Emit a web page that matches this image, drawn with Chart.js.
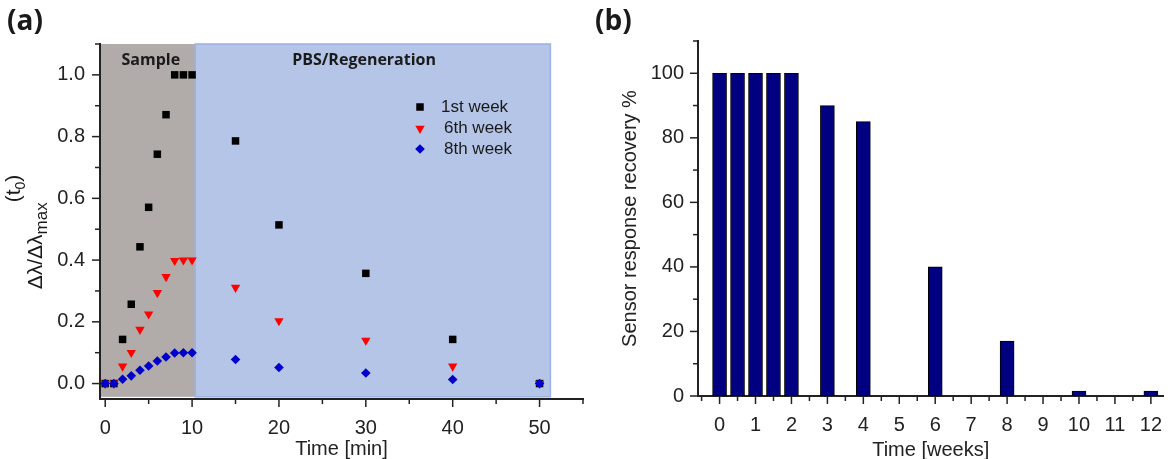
<!DOCTYPE html>
<html>
<head>
<meta charset="utf-8">
<script src="https://cdn.jsdelivr.net/npm/chart.js@4.4.1/dist/chart.umd.min.js"></script>
<style>
html, body { margin: 0; padding: 0; background: #fff; }
#wrap { position: relative; width: 1171px; height: 459px; overflow: hidden; }
#chartA { position: absolute; left: 0; top: 0; }
#chartB { position: absolute; left: 590px; top: 0; }
</style>
</head>
<body>
<div id="wrap">
  <canvas id="chartA" width="590" height="459"></canvas>
  <canvas id="chartB" width="581" height="459"></canvas>
</div>
<script>
// panel (a): normalised shift vs time
const minutes = [0, 1, 2, 3, 4, 5, 6, 7, 8, 9, 10, 15, 20, 30, 40, 50];
const week1 = [0, 0, 0.143, 0.257, 0.443, 0.571, 0.743, 0.871, 1.0, 1.0, 1.0, 0.786, 0.514, 0.357, 0.143, 0];
const week6 = [0, 0, 0.056, 0.100, 0.175, 0.225, 0.294, 0.346, 0.398, 0.400, 0.400, 0.311, 0.203, 0.140, 0.056, 0];
const week8 = [0, 0, 0.014, 0.025, 0.043, 0.057, 0.073, 0.086, 0.099, 0.100, 0.100, 0.078, 0.052, 0.034, 0.013, 0];
const minTicks = [0, 10, 20, 30, 40, 50];
const minMinor = [5, 15, 25, 35, 45, 55];
const shiftTicks = [0, 0.2, 0.4, 0.6, 0.8, 1.0];
const shiftMinor = [0.1, 0.3, 0.5, 0.7, 0.9, 1.1];

// panel (b): recovery per week
const weeks = [0, 0.5, 1, 1.5, 2, 3, 4, 6, 8, 10, 12];
const recovery = [100, 100, 100, 100, 100, 90, 85, 40, 17, 1.5, 1.5];
const weekTicks = [0, 1, 2, 3, 4, 5, 6, 7, 8, 9, 10, 11, 12];
const weekMinor = [-0.5, 0.5, 1.5, 2.5, 3.5, 4.5, 5.5, 6.5, 7.5, 8.5, 9.5, 10.5, 11.5];
const pctTicks = [0, 20, 40, 60, 80, 100];
const pctMinor = [10, 30, 50, 70, 90, 110];

const axisColor = '#222';
const tickFont = { family: '"Liberation Sans", Arial, sans-serif', size: 20 };

function line(ctx, x1, y1, x2, y2) {
  ctx.beginPath(); ctx.moveTo(x1, y1); ctx.lineTo(x2, y2); ctx.stroke();
}

// Origin style outward ticks, major and minor
function drawTicks(chart, xMaj, xMin, yMaj, yMin) {
  const ctx = chart.ctx, a = chart.chartArea;
  const xs = chart.scales.x, ys = chart.scales.y;
  ctx.save();
  ctx.strokeStyle = axisColor;
  ctx.lineWidth = 1.5;
  xMaj.forEach(v => { const p = xs.getPixelForValue(v); line(ctx, p, a.bottom, p, a.bottom + 8); });
  xMin.forEach(v => { const p = xs.getPixelForValue(v); line(ctx, p, a.bottom, p, a.bottom + 5); });
  yMaj.forEach(v => { const p = ys.getPixelForValue(v); line(ctx, a.left, p, a.left - 8, p); });
  yMin.forEach(v => { const p = ys.getPixelForValue(v); line(ctx, a.left, p, a.left - 5, p); });
  ctx.restore();
}

function marker(ctx, style, radius, rotation, color, x, y) {
  ctx.fillStyle = color;
  Chart.helpers.drawPoint(ctx, { pointStyle: style, radius: radius, rotation: rotation, borderWidth: 0 }, x, y);
}

const panelA = {
  id: 'panelA',
  beforeDatasetsDraw(chart) {
    const ctx = chart.ctx, xs = chart.scales.x, ys = chart.scales.y;
    const top = ys.getPixelForValue(1.1), bot = ys.getPixelForValue(-0.043);
    const x0 = chart.chartArea.left + 1, x1 = xs.getPixelForValue(10.36), x2 = xs.getPixelForValue(51.25);
    ctx.save();
    ctx.fillStyle = '#b1abaa';
    ctx.fillRect(x0, top, x1 - x0, bot - top);
    ctx.fillStyle = '#b4c5e7';
    ctx.fillRect(x1, top, x2 - x1, bot - top);
    ctx.strokeStyle = '#9ab3e0';
    ctx.lineWidth = 1.5;
    ctx.strokeRect(x1, top, x2 - x1, bot - top);
    ctx.restore();
  },
  afterDraw(chart) {
    const ctx = chart.ctx, xs = chart.scales.x, ys = chart.scales.y, a = chart.chartArea;
    drawTicks(chart, minTicks, minMinor, shiftTicks, shiftMinor);
    ctx.save();
    ctx.fillStyle = '#1a1a1a';
    ctx.textBaseline = 'alphabetic';
    ctx.textAlign = 'center';
    ctx.font = 'bold 16px "Open Sans"';
    ctx.fillText('Sample', xs.getPixelForValue(5.25), ys.getPixelForValue(1.032));
    ctx.fillText('PBS/Regeneration', xs.getPixelForValue(29.8), ys.getPixelForValue(1.032));
    ctx.textAlign = 'left';
    ctx.font = 'bold 28px "Open Sans"';
    ctx.fillText('(a)', 7, 30);

    // legend
    const lx = a.left + 320, ly = a.top + 63;
    marker(ctx, 'rect', 5.3, 0, '#000', lx, ly);
    marker(ctx, 'triangle', 5.4, 180, '#ff0000', lx, ly + 21.5);
    marker(ctx, 'rectRot', 4.8, 0, '#0000cc', lx, ly + 42);
    ctx.fillStyle = '#1a1a1a';
    ctx.font = '17px "Liberation Sans"';
    ctx.textBaseline = 'middle';
    ctx.fillText(chart.data.datasets[0].label, lx + 21, ly);
    ctx.fillText(chart.data.datasets[1].label, lx + 24, ly + 21.5);
    ctx.fillText(chart.data.datasets[2].label, lx + 24, ly + 42);

    // y title with sub/superscripts
    const parts = [
      { t: 'Δλ/Δλ', size: 21, dy: 0 },
      { t: 'max', size: 17, dy: 5 },
      { t: '(t', size: 21, dy: -22 },
      { t: '0', size: 14, dy: -17 },
      { t: ')', size: 21, dy: -22 }
    ];
    let total = 0;
    parts.forEach(p => { ctx.font = p.size + 'px "Liberation Sans"'; p.w = ctx.measureText(p.t).width; total += p.w; });
    ctx.translate(42, 232);
    ctx.rotate(-Math.PI / 2);
    ctx.textBaseline = 'alphabetic';
    let px = -total / 2;
    parts.forEach(p => { ctx.font = p.size + 'px "Liberation Sans"'; ctx.fillText(p.t, px, p.dy); px += p.w; });
    ctx.restore();
  }
};

const panelB = {
  id: 'panelB',
  afterDraw(chart) {
    const ctx = chart.ctx;
    drawTicks(chart, weekTicks, weekMinor, pctTicks, pctMinor);
    ctx.save();
    ctx.fillStyle = '#1a1a1a';
    ctx.font = 'bold 28px "Open Sans"';
    ctx.fillText('(b)', 5, 30);
    ctx.restore();
  }
};

new Chart(document.getElementById('chartA'), {
  type: 'scatter',
  data: {
    datasets: [
      { label: '1st week', data: minutes.map((t, i) => ({ x: t, y: week1[i] })), pointStyle: 'rect', pointRadius: 5.3, backgroundColor: '#000', borderWidth: 0, order: 3 },
      { label: '6th week', data: minutes.map((t, i) => ({ x: t, y: week6[i] })), pointStyle: 'triangle', rotation: 180, pointRadius: 5.4, backgroundColor: '#ff0000', borderWidth: 0, order: 2 },
      { label: '8th week', data: minutes.map((t, i) => ({ x: t, y: week8[i] })), pointStyle: 'rectRot', pointRadius: 4.8, backgroundColor: '#0000cc', borderWidth: 0, order: 1 }
    ]
  },
  options: {
    responsive: false,
    animation: false,
    layout: { padding: { top: 44, right: 7, left: 0, bottom: 0 } },
    plugins: { legend: { display: false }, tooltip: { enabled: false } },
    scales: {
      x: {
        type: 'linear', min: -0.6, max: 55,
        afterBuildTicks: s => { s.ticks = minTicks.map(v => ({ value: v })); },
        afterFit: s => { s.height = 60; },
        grid: { display: false },
        border: { display: true, color: axisColor, width: 2 },
        ticks: { padding: 9, font: tickFont, color: axisColor, maxRotation: 0, autoSkip: false },
        title: { display: true, text: 'Time [min]', font: tickFont, color: axisColor, padding: { top: 0, bottom: -2 } }
      },
      y: {
        type: 'linear', min: -0.05, max: 1.1,
        afterBuildTicks: s => { s.ticks = shiftTicks.map(v => ({ value: v })); },
        afterFit: s => { s.width = 100; },
        grid: { display: false },
        border: { display: true, color: axisColor, width: 2 },
        ticks: { padding: 7, font: tickFont, color: axisColor, autoSkip: false, callback: v => v.toFixed(1) }
      }
    }
  },
  plugins: [panelA]
});

new Chart(document.getElementById('chartB'), {
  type: 'bar',
  data: {
    datasets: [{
      label: 'Sensor response recovery %',
      data: weeks.map((w, i) => ({ x: w, y: recovery[i] })),
      backgroundColor: '#000080',
      borderColor: '#000',
      borderWidth: 1,
      borderSkipped: false,
      barThickness: 14
    }]
  },
  options: {
    responsive: false,
    animation: false,
    layout: { padding: { top: 41, right: 0, left: 0, bottom: 0 } },
    plugins: { legend: { display: false }, tooltip: { enabled: false } },
    scales: {
      x: {
        type: 'linear', offset: false, min: -0.6, max: 12.35,
        afterBuildTicks: s => { s.ticks = weekTicks.map(v => ({ value: v })); },
        afterFit: s => { s.height = 63; },
        grid: { display: false },
        border: { display: true, color: axisColor, width: 2 },
        ticks: { padding: 9, font: tickFont, color: axisColor, maxRotation: 0, autoSkip: false },
        title: { display: true, text: 'Time [weeks]', font: tickFont, color: axisColor, padding: { top: 0, bottom: -3 } }
      },
      y: {
        type: 'linear', min: 0, max: 110,
        afterBuildTicks: s => { s.ticks = pctTicks.map(v => ({ value: v })); },
        afterFit: s => { s.width = 108; },
        grid: { display: false },
        border: { display: true, color: axisColor, width: 2 },
        ticks: { padding: 6, font: tickFont, color: axisColor, autoSkip: false },
        title: { display: true, text: 'Sensor response recovery %', font: tickFont, color: axisColor, padding: { top: 28, bottom: 0 } }
      }
    }
  },
  plugins: [panelB]
});
</script>
</body>
</html>
